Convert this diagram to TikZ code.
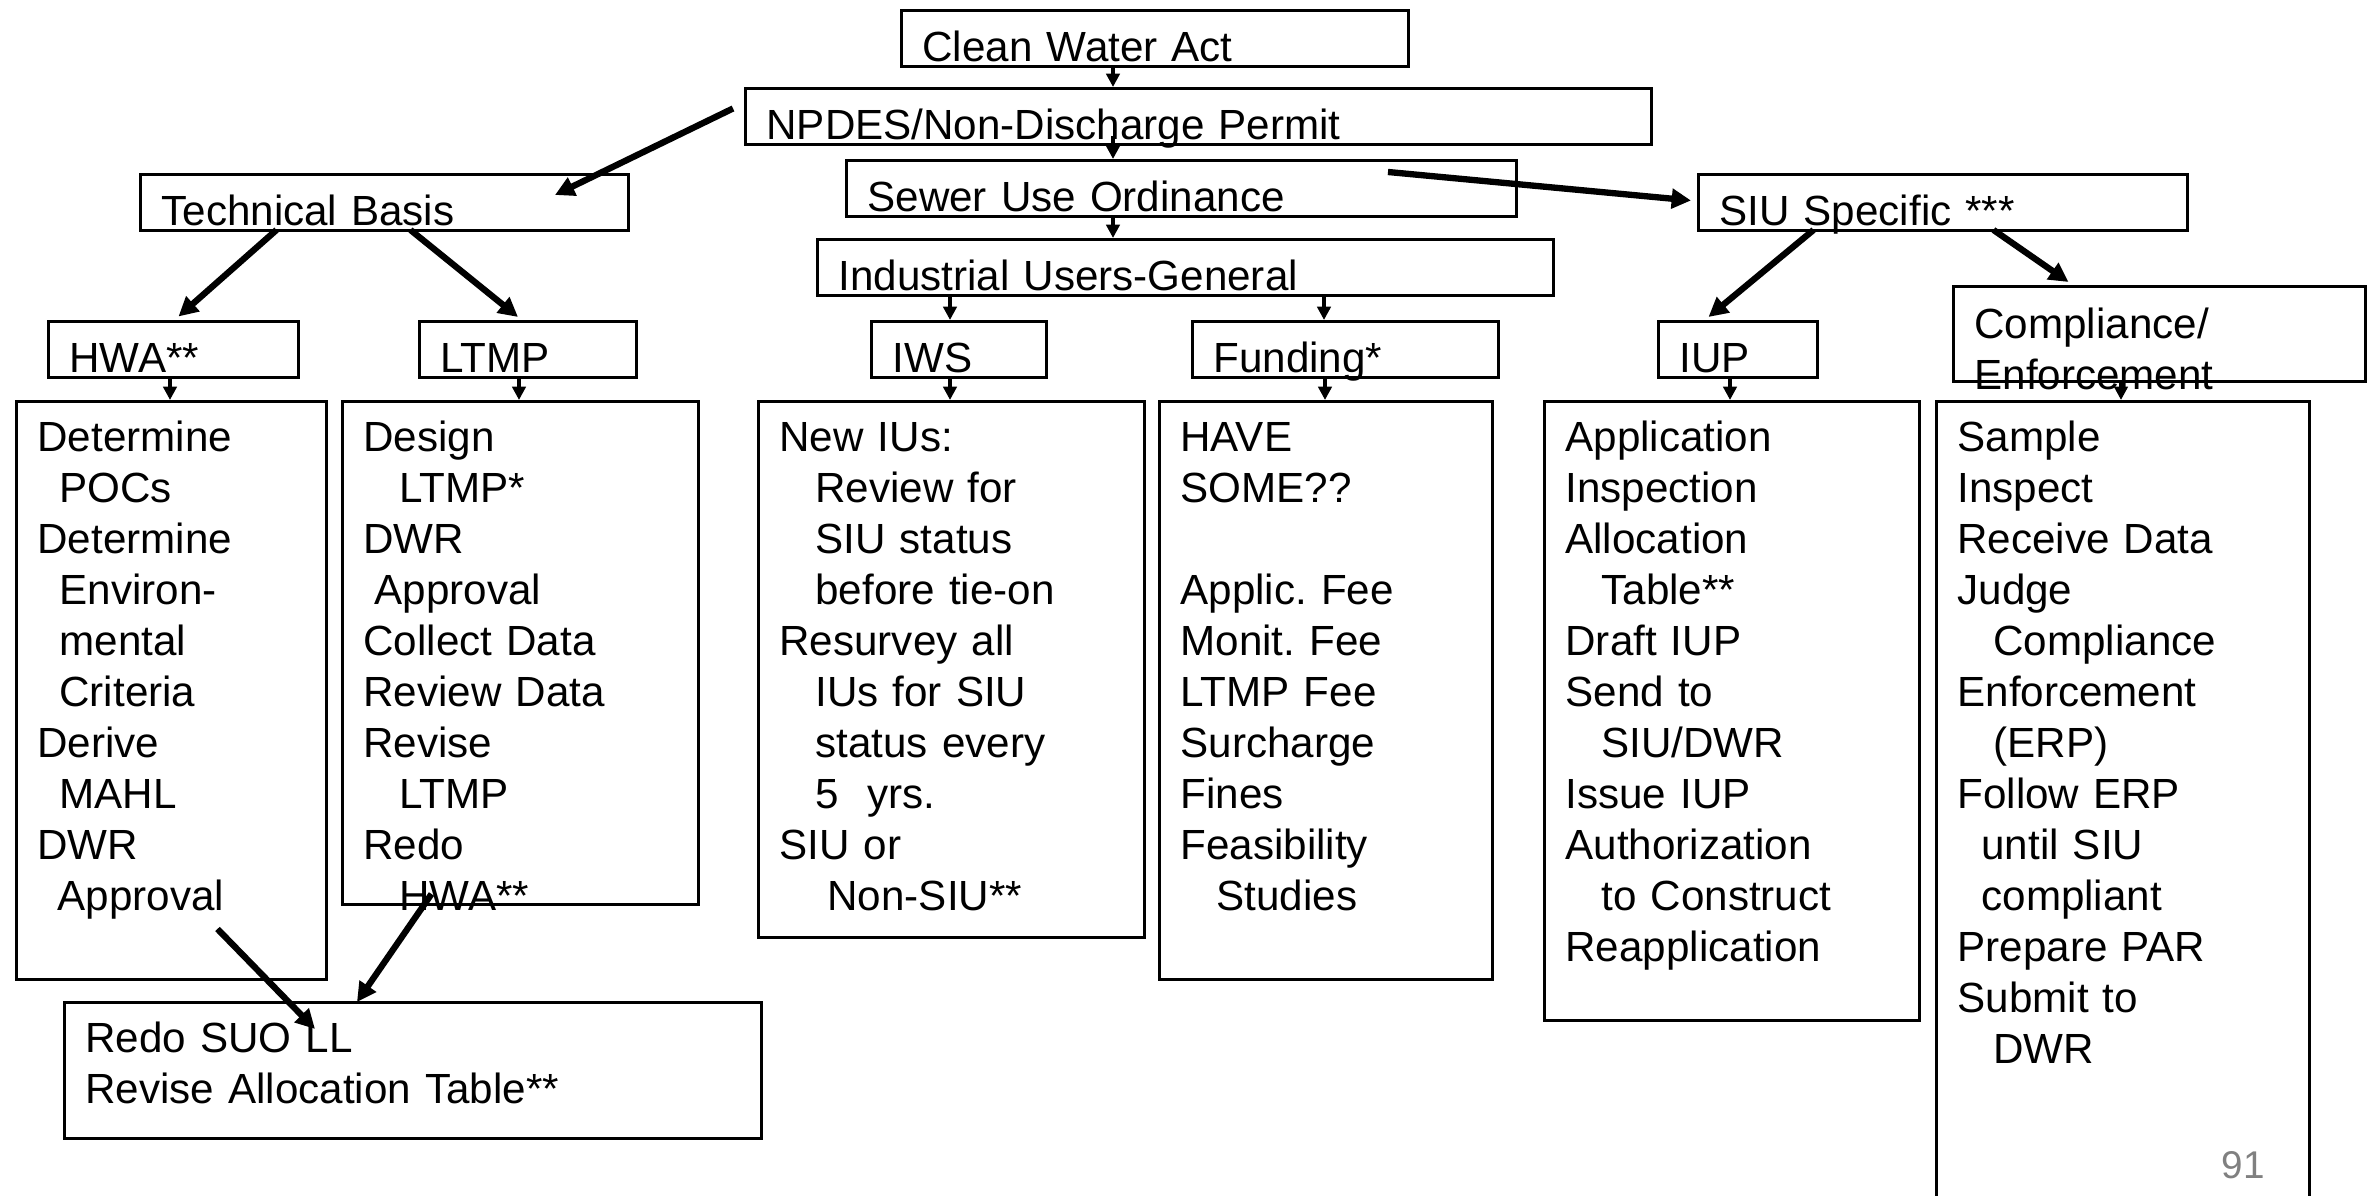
\documentclass[tikz,border=0pt]{standalone}
\usepackage{fontspec}
\setmainfont{Liberation Sans}
\frenchspacing
\usetikzlibrary{arrows.meta,positioning}
\tikzstyle{thinarrow} = [line width=1.2pt, -{Triangle[length=3.8pt,width=3.8pt]}]
\tikzstyle{heavyarrow} = [line width=1.8pt, -{Triangle[length=5.5pt,width=5.5pt]}]
\tikzstyle{headbox} = [draw, line width=0.85pt, anchor=north west, inner xsep=0.21cm, inner ysep=0pt, align=left, text height=0.51cm, text depth=0.05cm, font=\fontsize{12}{14.5}\selectfont]
\tikzstyle{listbox} = [headbox, text height=0.5cm]

\begin{document}
\begin{tikzpicture}
\useasboundingbox (0,0) rectangle (23.69,-11.96);
\clip (0,0) rectangle (23.69,-11.96);

% Top chain
\node[headbox, text width=4.65cm] (cwa) at (9.00,-0.09) {Clean Water Act};
\node[headbox, text width=8.64cm] (npdes) at (7.44,-0.87) {NPDES/Non-Discharge Permit};
\node[headbox, text width=6.28cm] (suo) at (8.45,-1.59) {Sewer Use Ordinance};
\node[headbox, text width=6.94cm] (iug) at (8.16,-2.38) {Industrial Users-General};

% Branch heads
\node[headbox, text width=4.46cm] (tech) at (1.39,-1.73) {Technical Basis};
\node[headbox, text width=4.47cm] (siu) at (16.97,-1.73) {SIU Specific ***};
\node[headbox, text width=2.08cm] (hwa) at (0.47,-3.20) {HWA**};
\node[headbox, text width=1.75cm] (ltmp) at (4.18,-3.20) {LTMP};
\node[headbox, text width=1.33cm] (iws) at (8.70,-3.20) {IWS};
\node[headbox, text width=2.64cm] (fund) at (11.91,-3.20) {Funding*};
\node[headbox, text width=1.17cm] (iup) at (16.57,-3.20) {IUP};
\node[headbox, text width=3.70cm, text height=0.52cm, text depth=0.43cm] (comp) at (19.52,-2.85) {Compliance/\\Enforcement};

% Task lists
\node[listbox, text width=2.68cm, text depth=5.28cm] (hwad) at (0.15,-4.00) {Determine\\\hspace*{0.22cm}POCs\\Determine\\\hspace*{0.22cm}Environ-\\\hspace*{0.22cm}mental\\\hspace*{0.22cm}Criteria\\Derive\\\hspace*{0.22cm}MAHL\\DWR\\\hspace*{0.2cm}Approval};
\node[listbox, text width=3.14cm, text depth=4.53cm] (ltmpd) at (3.41,-4.00) {Design\\\hspace*{0.36cm}LTMP*\\DWR\\\hspace*{0.11cm}Approval\\Collect Data\\Review Data\\Revise\\\hspace*{0.36cm}LTMP\\Redo\\\hspace*{0.36cm}HWA**};
\node[listbox, text width=3.44cm, text depth=4.86cm] (iwsd) at (7.57,-4.00) {New IUs:\\\hspace*{0.36cm}Review for\\\hspace*{0.36cm}SIU status\\\hspace*{0.36cm}before tie-on\\Resurvey all\\\hspace*{0.36cm}IUs for SIU\\\hspace*{0.36cm}status every\\\hspace*{0.36cm}5\ \ yrs.\\SIU or\\\hspace*{0.48cm}Non-SIU**};
\node[listbox, text width=2.91cm, text depth=5.28cm] (fundd) at (11.58,-4.00) {HAVE\\SOME??\\[14.5pt]Applic. Fee\\Monit. Fee\\LTMP Fee\\Surcharge\\Fines\\Feasibility\\\hspace*{0.36cm}Studies};
\node[listbox, text width=3.33cm, text depth=5.69cm] (iupd) at (15.43,-4.00) {Application\\Inspection\\Allocation\\\hspace*{0.36cm}Table**\\Draft IUP\\Send to\\\hspace*{0.36cm}SIU/DWR\\Issue IUP\\Authorization\\\hspace*{0.36cm}to Construct\\Reapplication};
\node[listbox, text width=3.31cm, text depth=7.70cm] (compd) at (19.35,-4.00) {Sample\\Inspect\\Receive Data\\Judge\\\hspace*{0.36cm}Compliance\\Enforcement\\\hspace*{0.36cm}(ERP)\\Follow ERP\\\hspace*{0.24cm}until SIU\\\hspace*{0.24cm}compliant\\Prepare PAR\\Submit to\\\hspace*{0.36cm}DWR};
\node[listbox, text width=6.55cm, text depth=0.86cm] (redo) at (0.63,-10.01) {Redo SUO LL\\Revise Allocation Table**};

% Spine arrows
\coordinate (spine) at (11.13,0);
\draw[thinarrow] (cwa.south -| spine) -- (npdes.north -| spine);
\draw[thinarrow] ([yshift=0.1cm]npdes.south -| spine) -- (suo.north -| spine);
\draw[thinarrow] (suo.south -| spine) -- (iug.north -| spine);
\draw[thinarrow] (iug.south -| 9.50,0) -- (iws.north -| 9.50,0);
\draw[thinarrow] (iug.south -| 13.24,0) -- (fund.north -| 13.24,0);

% Heads to lists
\foreach \hd/\lst/\x in {hwa/hwad/1.70, ltmp/ltmpd/5.19, iws/iwsd/9.50, fund/fundd/13.25, iup/iupd/17.30, comp/compd/21.21}
  \draw[thinarrow] (\hd.south -| \x,0) -- (\lst.north -| \x,0);

% Branch arrows
\draw[heavyarrow] ([shift={(-0.11,0.08)}]npdes.west) -- ([shift={(-0.75,-0.22)}]tech.north east);
\draw[heavyarrow] ([shift={(-1.08,0.02)}]tech.south) -- ([shift={(0.05,0.035)}]hwa.north);
\draw[heavyarrow] ([shift={(0.26,0.02)}]tech.south) -- ([shift={(-0.10,0.03)}]ltmp.north);
\draw[heavyarrow] ([shift={(-1.30,-0.13)}]suo.north east) -- ([shift={(-0.06,0.02)}]siu.west);
\draw[heavyarrow] ([shift={(-1.295,0.02)}]siu.south) -- ([shift={(-0.295,0.03)}]iup.north);
\draw[heavyarrow] ([shift={(0.505,0.02)}]siu.south) -- ([shift={(-0.91,0.03)}]comp.north);
\draw[heavyarrow] ([shift={(0.46,0.52)}]hwad.south) -- ([shift={(2.52,-0.28)}]redo.north west);
\draw[heavyarrow] ([shift={(-0.89,0.12)}]ltmpd.south) -- ([shift={(2.94,-0.01)}]redo.north west);

% Page number
\node[font=\fontsize{11}{13}\selectfont, text=gray] (pagenum) at (22.43,-11.65) {91};
\end{tikzpicture}
\end{document}
